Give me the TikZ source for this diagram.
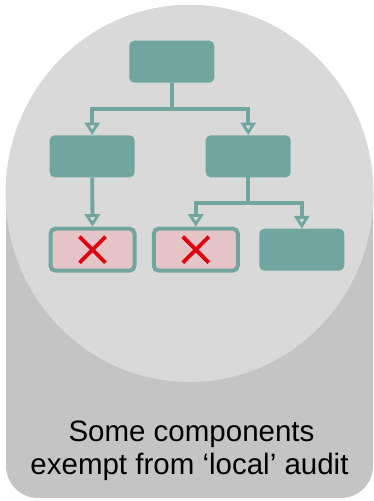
\documentclass[tikz,border=0pt]{standalone}
\usepackage{fontspec}
\setmainfont{Liberation Sans}
\usetikzlibrary{arrows.meta}
\definecolor{panelback}{HTML}{C4C4C4}
\definecolor{panelfront}{HTML}{D9D9D9}
\definecolor{teal}{HTML}{71A6A0}
\definecolor{blush}{HTML}{E4C4C6}
\definecolor{crossred}{HTML}{E2000F}
\tikzset{
  unit/.style={fill=teal, rounded corners=5pt, minimum width=85pt, minimum height=42pt, inner sep=0pt},
  exempt/.style={fill=blush, draw=teal, line width=4pt, rounded corners=5pt, minimum width=84pt, minimum height=42pt, inner sep=0pt},
  link/.style={draw=teal, line width=3.8pt},
  flow/.style={link, -{Triangle[open, length=12.5pt, width=15pt, line width=2.8pt]}},
  cross/.style={draw=crossred, line width=3.8pt},
  caption/.style={font=\fontsize{29.5}{32}\selectfont, anchor=base, inner sep=0pt}
}
\begin{document}
\begin{tikzpicture}[x=1pt, y=1pt]
\useasboundingbox (0,0) rectangle (374,501);
% outer panel: domed top, rounded bottom corners
\fill[panelback] (6,307.5) arc[start angle=180, end angle=0, x radius=183.5pt, y radius=188.5pt]
  -- (373,35) arc[start angle=0, end angle=-90, radius=32pt] -- (38,3)
  arc[start angle=-90, end angle=-180, radius=32pt] -- cycle;
% light disc
\fill[panelfront] (189.5,307.5) ellipse[x radius=184pt, y radius=188.5pt];

% hierarchy
\node[unit] (top) at (171.8,439.3) {};
\node[unit] (midL) at (92.2,344.7) {};
\node[unit] (midR) at (248.2,344.7) {};
\node[exempt] (botL) at (92.5,251.3) {};
\node[exempt] (botM) at (195.8,251.3) {};
\node[unit] (botR) at (301.8,251.3) {};

\coordinate (j1) at (171.8,392.3);
\coordinate (j2) at (248.2,297.7);

\draw[link] (top.south) -- (j1);
\draw[flow] (j1) -| (midL.north);
\draw[flow] (j1) -| (midR.north);
\draw[flow] (midL.south) -- (botL.north);
\draw[link] (midR.south) -- (j2);
\draw[flow] (j2) -| (botM.north);
\draw[flow] (j2) -| (botR.north);

% exemption marks
\foreach \n in {botL, botM} {
  \draw[cross] ([shift={(-13,-13)}]\n.center) -- ([shift={(13,13)}]\n.center);
  \draw[cross] ([shift={(-13,13)}]\n.center) -- ([shift={(13,-13)}]\n.center);
}

\node[caption] (cap1) at (191.5,59) {Some components};
\node[caption] (cap2) at (189.5,27) {exempt from ‘local’ audit};
\end{tikzpicture}
\end{document}
